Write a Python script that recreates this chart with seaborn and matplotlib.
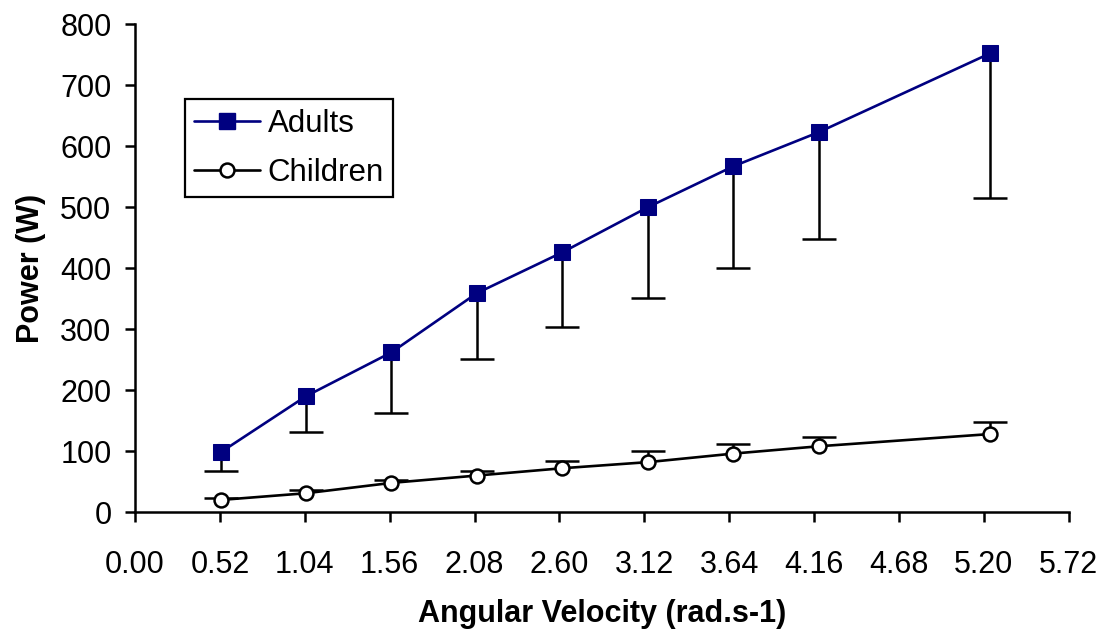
import numpy as np
import pandas as pd
import matplotlib
matplotlib.use("Agg")
import matplotlib.pyplot as plt
import seaborn as sns
from matplotlib.lines import Line2D

# Data
velocity = [0.524, 1.047, 1.571, 2.094, 2.618, 3.142, 3.665, 4.189, 5.236]
adults = [98, 190, 262, 359, 426, 500, 567, 623, 752]
adults_sd = [31, 59, 100, 108, 123, 149, 167, 175, 237]
children = [20, 31, 48, 60, 72, 82, 96, 108, 128]
children_sd = [3, 5, 4, 7, 12, 18, 15, 15, 20]
x_ticks = [0.00, 0.52, 1.04, 1.56, 2.08, 2.60, 3.12, 3.64, 4.16, 4.68, 5.20, 5.72]
y_ticks = [0, 100, 200, 300, 400, 500, 600, 700, 800]

sns.set_style("ticks")
plt.rcParams['font.family'] = ['Liberation Sans', 'DejaVu Sans']
plt.rcParams['text.color'] = 'black'
plt.rcParams['axes.labelcolor'] = 'black'

df = pd.DataFrame({
    "velocity": velocity * 2,
    "power": adults + children,
    "group": ["Adults"] * len(adults) + ["Children"] * len(children),
})

fig = plt.figure(figsize=(11.11, 6.37), dpi=100)
ax = fig.add_axes([0.1215, 0.196, 0.8405, 0.766])

# one-sided error bars, drawn beneath markers
eb_a = ax.errorbar(velocity, adults, yerr=[adults_sd, [0] * len(adults_sd)], fmt='none',
                   ecolor='black', elinewidth=1.8, capsize=12, capthick=1.8, zorder=1)
eb_c = ax.errorbar(velocity, children, yerr=[[0] * len(children_sd), children_sd], fmt='none',
                   ecolor='black', elinewidth=1.8, capsize=12, capthick=1.8, zorder=1)
# hide the zero-length side caps
for eb, vals in ((eb_a, adults), (eb_c, children)):
    for cl in eb[1]:
        if np.allclose(cl.get_ydata(), vals):
            cl.set_visible(False)

sns.lineplot(data=df, x="velocity", y="power", hue="group", style="group",
             palette={"Adults": "#000080", "Children": "black"},
             markers={"Adults": "s", "Children": "o"}, dashes=False,
             linewidth=1.9, ax=ax, zorder=3, legend=False)

for ln in ax.lines:
    m = ln.get_marker()
    if m == 's':
        ln.set_markersize(11)
        ln.set_markerfacecolor('#000080')
        ln.set_markeredgecolor('#000080')
        ln.set_zorder(3)
    elif m == 'o':
        ln.set_markersize(10)
        ln.set_markerfacecolor('white')
        ln.set_markeredgecolor('black')
        ln.set_markeredgewidth(1.8)
        ln.set_zorder(3)

handles = [
    Line2D([], [], color='#000080', marker='s', markersize=11, markerfacecolor='#000080',
           markeredgecolor='#000080', linewidth=1.9),
    Line2D([], [], color='black', marker='o', markersize=10, markerfacecolor='white',
           markeredgecolor='black', markeredgewidth=1.8, linewidth=1.9),
]
leg = ax.legend(handles, ["Adults", "Children"], loc='upper left',
                bbox_to_anchor=(0.0535, 0.846), borderaxespad=0, fontsize=22.5,
                frameon=True, fancybox=False, handlelength=2.1, handletextpad=0.25,
                borderpad=0.3, labelspacing=0.62)
leg.get_frame().set_edgecolor('black')
leg.get_frame().set_linewidth(1.6)
leg.get_frame().set_alpha(1)

ax.set_xlim(0, 5.72)
ax.set_ylim(0, 800)
ax.set_xticks(x_ticks)
ax.set_xticklabels([f"{v:.2f}" for v in x_ticks])
ax.set_yticks(y_ticks)
ax.set_yticklabels([str(v) for v in y_ticks])
ax.tick_params(axis='both', direction='out', length=7, width=1.8, labelsize=22,
               colors='black', labelcolor='black')
ax.tick_params(axis='x', pad=20)
ax.tick_params(axis='y', pad=10)
for s in ['left', 'bottom']:
    ax.spines[s].set_linewidth(1.8)
    ax.spines[s].set_color('black')
sns.despine(ax=ax)

ax.set_xlabel("Angular Velocity (rad.s-1)", fontsize=22, fontweight='bold', labelpad=14)
ax.set_ylabel("Power (W)", fontsize=22, fontweight='bold', labelpad=10)

fig.savefig("out.png", dpi=100)
